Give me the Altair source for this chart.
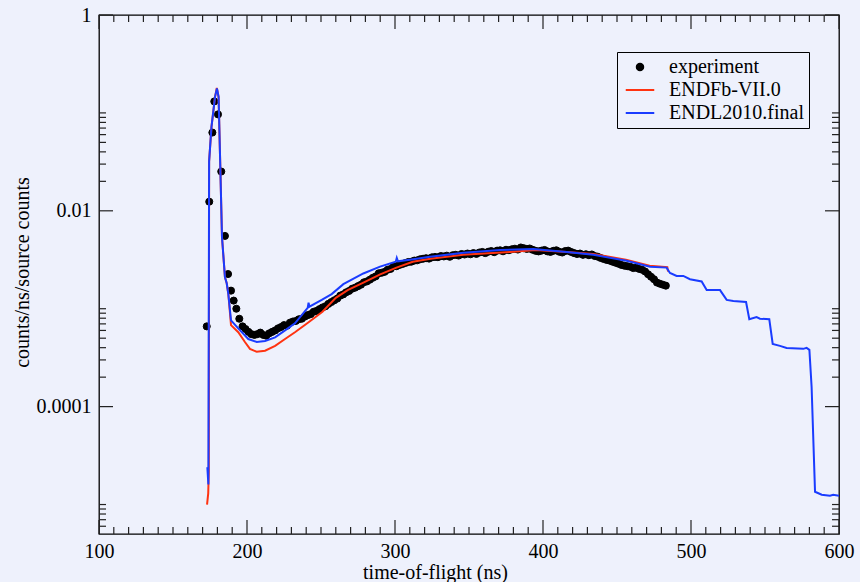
import altair as alt
import pandas as pd

# ---------------- data ----------------
series_names = ["experiment", "ENDFb-VII.0", "ENDL2010.final"]

# experiment: isolated early points, then the dense band (every 2 ns)
exp_t_early = [172.8, 174.5, 176.6, 177.9, 180.4, 182.6, 185.1, 187.2, 189.2, 191.0, 192.8, 194.8]
exp_v_early = [6.6e-4, 0.0124, 0.063, 0.131, 0.0966, 0.0252, 0.00554, 0.00226, 0.00153, 0.00121, 0.0010, 7.9e-4]

exp_t_band = list(range(197, 485, 2))
exp_v_band = [
    6.6e-4, 6.2e-4, 5.8e-4, 5.5e-4, 5.4e-4, 5.5e-4, 5.7e-4, 5.4e-4, 5.3e-4, 5.6e-4,
    5.8e-4, 6.0e-4, 6.3e-4, 6.5e-4, 6.8e-4, 6.7e-4, 7.2e-4, 7.4e-4, 7.5e-4, 7.8e-4,
    7.9e-4, 8.3e-4, 8.6e-4, 8.8e-4, 9.3e-4, 9.5e-4, 9.9e-4, 1.03e-3, 1.06e-3, 1.12e-3,
    1.17e-3, 1.22e-3, 1.27e-3, 1.36e-3, 1.40e-3, 1.47e-3, 1.52e-3, 1.60e-3, 1.64e-3, 1.70e-3,
    1.76e-3, 1.86e-3, 1.90e-3, 1.98e-3, 2.07e-3, 2.14e-3, 2.30e-3, 2.33e-3, 2.38e-3, 2.50e-3,
    2.55e-3, 2.70e-3, 2.72e-3, 2.80e-3, 2.86e-3, 2.93e-3, 3.00e-3, 3.02e-3, 3.10e-3, 3.12e-3,
    3.20e-3, 3.24e-3, 3.28e-3, 3.25e-3, 3.35e-3, 3.38e-3, 3.36e-3, 3.45e-3, 3.42e-3, 3.48e-3,
    3.39e-3, 3.52e-3, 3.55e-3, 3.49e-3, 3.62e-3, 3.58e-3, 3.66e-3, 3.60e-3, 3.70e-3, 3.63e-3,
    3.75e-3, 3.80e-3, 3.70e-3, 3.82e-3, 3.88e-3, 3.78e-3, 3.92e-3, 3.95e-3, 3.86e-3, 4.00e-3,
    3.96e-3, 4.05e-3, 4.10e-3, 4.02e-3, 4.22e-3, 4.15e-3, 4.08e-3, 4.12e-3, 4.00e-3, 3.90e-3,
    3.85e-3, 3.92e-3, 3.98e-3, 3.85e-3, 3.80e-3, 3.90e-3, 3.95e-3, 3.82e-3, 3.75e-3, 3.88e-3,
    3.92e-3, 3.80e-3, 3.70e-3, 3.62e-3, 3.66e-3, 3.55e-3, 3.60e-3, 3.52e-3, 3.58e-3, 3.45e-3,
    3.40e-3, 3.30e-3, 3.22e-3, 3.15e-3, 3.10e-3, 3.02e-3, 2.95e-3, 2.88e-3, 2.80e-3, 2.75e-3,
    2.72e-3, 2.68e-3, 2.60e-3, 2.62e-3, 2.55e-3, 2.50e-3, 2.40e-3, 2.25e-3, 2.12e-3, 2.00e-3,
    1.85e-3, 1.80e-3, 1.76e-3, 1.72e-3,
]

# ENDFb-VII.0 (red)
endf_t = [173.0, 173.8, 174.2, 174.4, 176.0, 178.4, 179.6, 180.8, 181.8, 183.1, 185.1, 186.3,
          187.4, 189.2, 194.1, 198.6, 202.0, 206.6, 212.2, 219.0, 225.7, 232.4, 241.4, 251.0,
          260.0, 268.0, 279.0, 290.0, 301.0, 312.0, 324.0, 346.0, 378.0, 395.0, 416.0, 434.0,
          456.0, 472.0, 484.0, 484.5]
endf_v = [1.0e-5, 1.3e-5, 2.2e-5, 0.032, 0.072, 0.146, 0.18, 0.146, 0.0355, 0.0054, 0.0021, 0.00182,
          0.00141, 0.00068, 0.000575, 0.000457, 0.000389, 0.000363, 0.000372, 0.000417, 0.00049,
          0.000575, 0.000724, 0.00093, 0.00129, 0.00155, 0.00186, 0.00224, 0.00263, 0.00302,
          0.00324, 0.00355, 0.0038, 0.00398, 0.0038, 0.00363, 0.00316, 0.00275, 0.00266, 0.0024]

# ENDL2010.final (blue)
endl_t = [173.2, 173.9, 174.4, 176.0, 178.4, 179.7, 180.8, 181.8, 183.1, 185.1, 186.3, 187.4,
          189.2, 194.1, 200.9, 206.6, 212.2, 219.0, 225.7, 232.4, 241.0, 241.6, 242.2, 250.5,
          257.2, 265.1, 278.6, 289.9, 300.5, 301.2, 302.0, 312.4, 323.6, 346.2, 371.0, 393.4,
          416.0, 434.0, 456.5, 472.3, 483.5, 485.8, 490.3, 494.8, 499.3, 507.2, 510.6, 519.6,
          524.1, 528.6, 537.2, 539.4, 544.3, 546.6, 552.9, 555.2, 560.1, 564.6, 575.9, 578.1,
          580.0, 581.5, 583.8, 588.3, 593.9, 596.1, 600.0]
endl_v = [2.4e-5, 1.6e-5, 0.032, 0.072, 0.146, 0.178, 0.146, 0.0355, 0.0054, 0.0021, 0.00182, 0.00141,
          0.00076, 0.00063, 0.00049, 0.000457, 0.000468, 0.00051, 0.0006, 0.00071, 0.00102, 0.00115,
          0.00105, 0.00123, 0.00141, 0.00178, 0.00229, 0.00269, 0.00302, 0.0033, 0.00305, 0.0032,
          0.00339, 0.00372, 0.00398, 0.00407, 0.0038, 0.00355, 0.00309, 0.00269, 0.00263, 0.00232,
          0.00216, 0.00216, 0.0020, 0.0019, 0.00155, 0.00155, 0.00123, 0.0012, 0.00117, 0.00078,
          0.00082, 0.00079, 0.00078, 0.000437, 0.000417, 0.000398, 0.000389, 0.000398, 0.00038,
          0.000158, 1.35e-5, 1.26e-5, 1.23e-5, 1.26e-5, 1.23e-5]

# axis ticks
x_major = [100, 200, 300, 400, 500, 600]
x_minor = [v for v in range(110, 600, 10) if v % 100 != 0]
y_major = [1, 0.01, 0.0001]
y_minor = [0.02, 0.03, 0.04, 0.05, 0.06, 0.07, 0.08, 0.09, 0.1,
           2e-4, 3e-4, 4e-4, 5e-4, 6e-4, 7e-4, 8e-4, 9e-4, 1e-3,
           6e-6, 7e-6, 8e-6, 9e-6, 1e-5]

# ---------------- styling ----------------
W, H = 740, 519
FONT = "Liberation Serif"
BG = "#EEF1FC"
RED = "#FF3311"
BLUE = "#1A3CFF"
TICK = "#222222"

exp_df = pd.DataFrame({"t": exp_t_early + exp_t_band,
                       "v": exp_v_early + exp_v_band})
exp_df["series"] = "experiment"
endf_df = pd.DataFrame({"t": endf_t, "v": endf_v})
endl_df = pd.DataFrame({"t": endl_t, "v": endl_v})

x_scale = alt.Scale(domain=[100, 600], nice=False, zero=False)
y_scale = alt.Scale(type="log", domain=[5e-6, 1], nice=False)

x_axis = alt.Axis(values=x_major, format="d", labelPadding=7, labelFlush=False,
                  labelOverlap=False, title="time-of-flight (ns)", titleX=336, titleY=44,
                  titleBaseline="alphabetic")
y_axis = alt.Axis(values=y_major, format="~g", labelPadding=8, labelFlush=False,
                  labelOverlap=False, title="counts/ns/source counts", titleX=-71, titleY=257,
                  titleBaseline="alphabetic", titleAngle=270)

legend = alt.Legend(title=None, orient="none", legendX=518, legendY=37,
                    labelFont=FONT, labelFontSize=20, labelColor="black", labelLimit=400,
                    labelExpr="datum.label + '\u00a0'",
                    strokeColor="black", padding=5, symbolSize=42, symbolStrokeWidth=2,
                    symbolOpacity=1, symbolOffset=8, labelOffset=19, rowPadding=3)

line_path = "M-4.4,0H4.4"
points = alt.Chart(exp_df).mark_point(filled=True, size=50, opacity=1, strokeWidth=1, clip=True).encode(
    x=alt.X("t:Q", scale=x_scale, axis=x_axis),
    y=alt.Y("v:Q", scale=y_scale, axis=y_axis),
    fill=alt.Fill("series:N", scale=alt.Scale(domain=series_names, range=["black", RED, BLUE]), legend=legend),
    stroke=alt.Stroke("series:N", scale=alt.Scale(domain=series_names, range=["black", RED, BLUE]), legend=legend),
    shape=alt.Shape("series:N", scale=alt.Scale(domain=series_names, range=["circle", line_path, line_path]), legend=legend),
)

red_line = alt.Chart(endf_df).mark_line(color=RED, strokeWidth=2, clip=True).encode(
    x=alt.X("t:Q", scale=x_scale),
    y=alt.Y("v:Q", scale=y_scale),
)
blue_line = alt.Chart(endl_df).mark_line(color=BLUE, strokeWidth=2, clip=True).encode(
    x=alt.X("t:Q", scale=x_scale),
    y=alt.Y("v:Q", scale=y_scale),
)


def xticks(values, length):
    df = pd.DataFrame({"t": values})
    base = alt.Chart(df).mark_rule(color=TICK, strokeWidth=1.2)
    bottom = base.encode(x=alt.X("t:Q", scale=x_scale), y=alt.value(H), y2=alt.value(H - length))
    top = base.encode(x=alt.X("t:Q", scale=x_scale), y=alt.value(0), y2=alt.value(length))
    return [bottom, top]


def yticks(values, length):
    df = pd.DataFrame({"v": values})
    base = alt.Chart(df).mark_rule(color=TICK, strokeWidth=1.2)
    left = base.encode(y=alt.Y("v:Q", scale=y_scale), x=alt.value(0), x2=alt.value(length))
    right = base.encode(y=alt.Y("v:Q", scale=y_scale), x=alt.value(W), x2=alt.value(W - length))
    return [left, right]


tick_layers = xticks(x_major, 14) + xticks(x_minor, 7) + yticks(y_major, 14) + yticks(y_minor, 7)

chart = alt.layer(points, red_line, blue_line, *tick_layers).properties(
    width=W, height=H,
    autosize=alt.AutoSizeParams(type="none"),
    padding={"left": 99, "top": 15, "right": 21, "bottom": 48},
    background=BG,
).configure_view(
    stroke="black", strokeWidth=1.3
).configure_axis(
    ticks=False, tickSize=0, domain=False, grid=False, labelFlush=False,
    labelFont=FONT, labelFontSize=20, labelColor="black",
    titleFont=FONT, titleFontSize=20, titleFontWeight="normal", titleColor="black",
)

chart.save("out.html", embed_options={"renderer": "svg", "actions": False})
